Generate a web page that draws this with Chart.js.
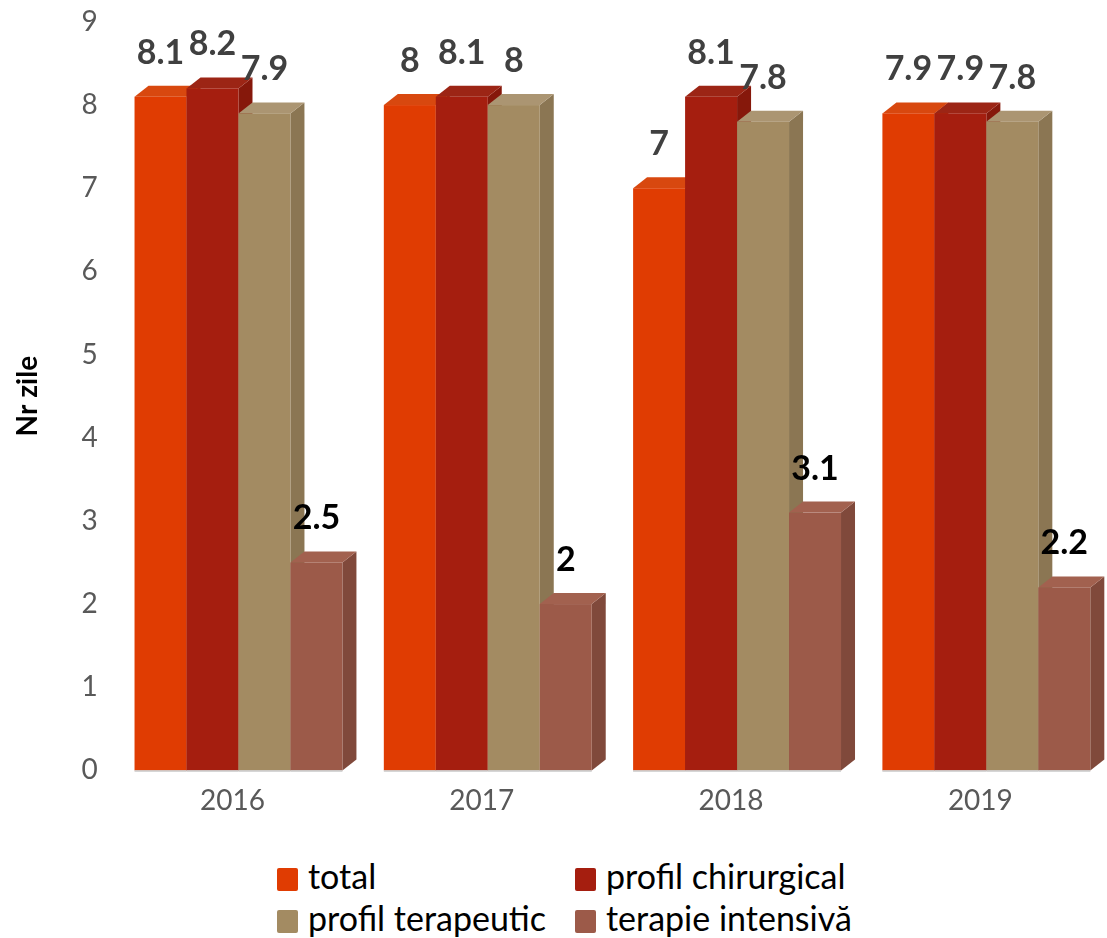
<!DOCTYPE html>
<html>
<head>
<meta charset="utf-8">
<script src="https://cdn.jsdelivr.net/npm/chart.js@4/dist/chart.umd.min.js"></script>
<style>
  body { margin: 0; background: #fff; font-family: Lato, sans-serif; }
  #wrap { position: relative; width: 1107px; height: 938px; }
  #box { position: absolute; left: 0; top: 0; width: 1107px; height: 852px; }
  .leg { position: absolute; font: 34px Lato, sans-serif; color: #000; white-space: nowrap; line-height: 34px; }
  .leg i { display: inline-block; width: 21px; height: 23px; margin-right: 10px; vertical-align: -2px; border-radius: 2px; }
</style>
</head>
<body>
<div id="wrap">
  <div id="box"><canvas id="chart"></canvas></div>
  <div id="legend"></div>
</div>
<script>
// categories and values (Nr zile)
const years = ['2016', '2017', '2018', '2019'];
const total = [8.1, 8, 7, 7.9];
const profilChirurgical = [8.2, 8.1, 8.1, 7.9];
const profilTerapeutic = [7.9, 8, 7.8, 7.8];
const terapieIntensiva = [2.5, 2, 3.1, 2.2];
const seriesNames = ['total', 'profil chirurgical', 'profil terapeutic', 'terapie intensivă'];
const yTicks = [0, 1, 2, 3, 4, 5, 6, 7, 8, 9];

// face colours: front, top, side
const faces = [
  ['#e03c02', '#d8480f', '#b93106'],
  ['#a51e0f', '#9c2515', '#86180b'],
  ['#a38b62', '#ab9572', '#8b7653'],
  ['#9c5a49', '#a2614f', '#80493b']
];
const labelColors = ['#404040', '#404040', '#404040', '#000000'];

const DX = 14, DY = 11, SHIFT = 6;

// draws the bars as 3D boxes, then the value labels
const box3d = {
  id: 'box3d',
  beforeDatasetsDraw(chart) {
    const ctx = chart.ctx;
    const n = chart.data.labels.length;
    for (let i = 0; i < n; i++) {
      chart.data.datasets.forEach((ds, d) => {
        const bar = chart.getDatasetMeta(d).data[i];
        const w = bar.width;
        const L = bar.x - w / 2 + SHIFT, R = L + w;
        const top = bar.y, base = bar.base;
        const c = faces[d];
        ctx.save();
        // side
        ctx.fillStyle = c[2];
        ctx.beginPath();
        ctx.moveTo(R, top); ctx.lineTo(R + DX, top - DY);
        ctx.lineTo(R + DX, base - DY); ctx.lineTo(R, base);
        ctx.closePath(); ctx.fill();
        // top
        ctx.fillStyle = c[1];
        ctx.beginPath();
        ctx.moveTo(L, top); ctx.lineTo(L + DX, top - DY);
        ctx.lineTo(R + DX, top - DY); ctx.lineTo(R, top);
        ctx.closePath(); ctx.fill();
        // front
        ctx.fillStyle = c[0];
        ctx.fillRect(L, top, w, base - top);
        // floor edge
        ctx.strokeStyle = '#c8c8c8';
        ctx.lineWidth = 1.5;
        ctx.beginPath();
        ctx.moveTo(L, base + 0.5); ctx.lineTo(R, base + 0.5);
        ctx.stroke();
        ctx.restore();
      });
    }
    // labels
    chart.data.datasets.forEach((ds, d) => {
      chart.getDatasetMeta(d).data.forEach((bar, i) => {
        ctx.save();
        ctx.font = 'bold 34px Lato, sans-serif';
        ctx.fillStyle = labelColors[d];
        ctx.textAlign = 'center';
        ctx.textBaseline = 'middle';
        ctx.fillText(String(ds.data[i]), bar.x + SHIFT, bar.y - 44);
        ctx.restore();
      });
    });
    return false;
  }
};

const allSeries = [total, profilChirurgical, profilTerapeutic, terapieIntensiva];

new Chart(document.getElementById('chart'), {
  type: 'bar',
  data: {
    labels: years,
    datasets: allSeries.map((vals, k) => ({
      label: seriesNames[k],
      data: vals,
      backgroundColor: faces[k][0],
      barPercentage: 1,
      categoryPercentage: 0.834
    }))
  },
  options: {
    responsive: true,
    maintainAspectRatio: false,
    animation: false,
    layout: { padding: { left: 0, right: 2, top: 0, bottom: 20 } },
    plugins: {
      legend: { display: false },
      tooltip: { enabled: false }
    },
    scales: {
      x: {
        grid: { display: false, drawTicks: false },
        border: { display: false },
        ticks: { color: '#595959', font: { family: 'Lato', size: 28 }, padding: 14 }
      },
      y: {
        min: yTicks[0],
        max: yTicks[yTicks.length - 1],
        afterBuildTicks(scale) { scale.ticks = yTicks.map(v => ({ value: v })); },
        grid: { display: false, drawTicks: false },
        border: { display: false },
        ticks: { color: '#595959', font: { family: 'Lato', size: 28, lineHeight: 0.85 }, padding: 10 },
        title: {
          display: true,
          text: 'Nr zile',
          color: '#000',
          font: { family: 'Lato', size: 28, weight: 'bold' },
          padding: { top: 11, bottom: 27 }
        }
      }
    }
  },
  plugins: [box3d]
});

// legend in two columns
const legPos = [[277, 859], [575, 859], [277, 901], [575, 901]];
const legend = document.getElementById('legend');
seriesNames.forEach((name, k) => {
  const el = document.createElement('div');
  el.className = 'leg';
  el.style.left = legPos[k][0] + 'px';
  el.style.top = legPos[k][1] + 'px';
  el.innerHTML = '<i style="background:' + faces[k][0] + '"></i>' + name;
  legend.appendChild(el);
});
</script>
</body>
</html>
